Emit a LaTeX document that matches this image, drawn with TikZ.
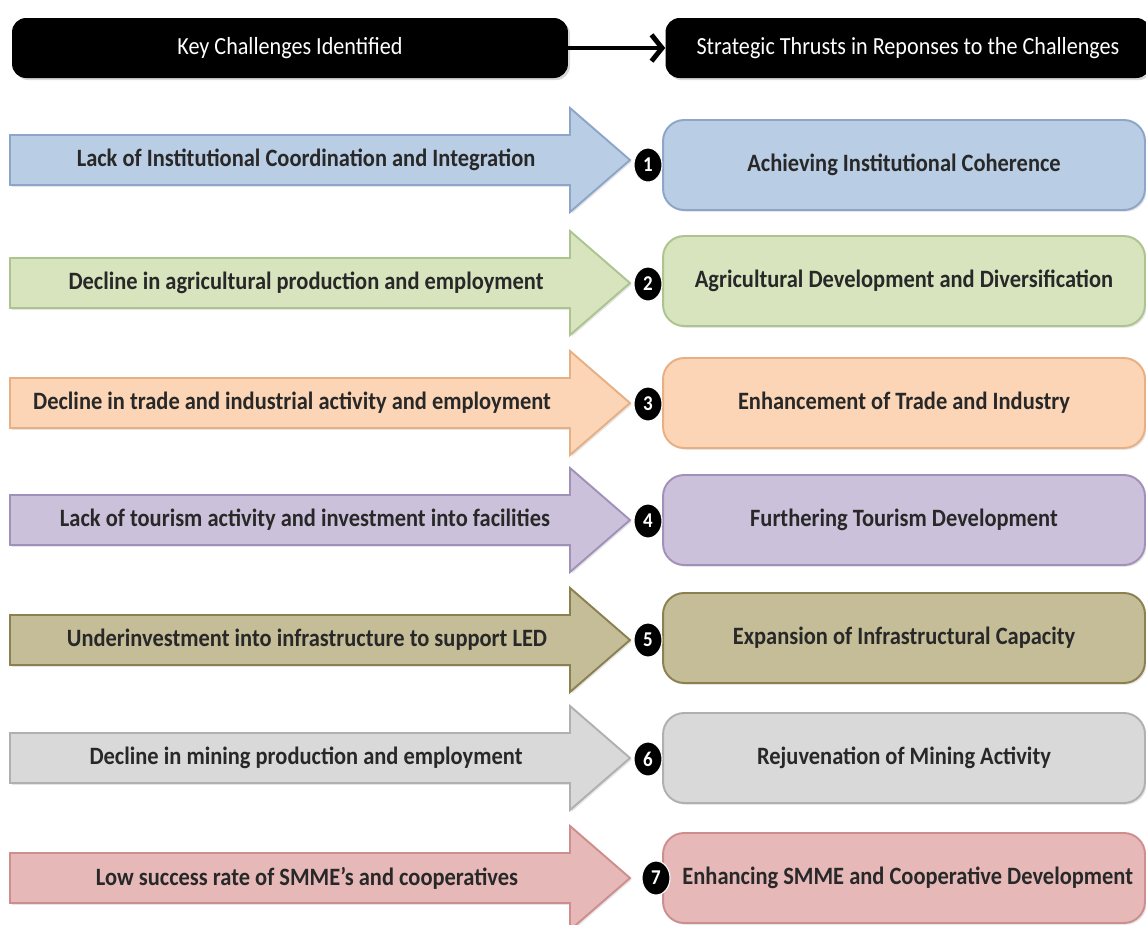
\documentclass[tikz,border=0pt]{standalone}
\usepackage{fontspec}
\setmainfont{Carlito}[FakeStretch=0.9]
\usepackage{tikz}
\usetikzlibrary{positioning, arrows.meta, shapes.geometric, shadows}

\definecolor{TextColor}{RGB}{40,40,40}
\definecolor{BlueFill}{RGB}{185,205,228}
\definecolor{BlueLine}{RGB}{140,165,200}
\definecolor{GreenFill}{RGB}{215,228,190}
\definecolor{GreenLine}{RGB}{172,196,142}
\definecolor{OrangeFill}{RGB}{251,213,181}
\definecolor{OrangeLine}{RGB}{230,176,132}
\definecolor{PurpleFill}{RGB}{204,193,218}
\definecolor{PurpleLine}{RGB}{160,145,186}
\definecolor{OliveFill}{RGB}{196,189,151}
\definecolor{OliveLine}{RGB}{138,128,80}
\definecolor{GreyFill}{RGB}{217,217,217}
\definecolor{GreyLine}{RGB}{176,176,176}
\definecolor{RedFill}{RGB}{230,185,184}
\definecolor{RedLine}{RGB}{206,142,142}

\tikzstyle{header} = [fill=black, rounded corners=8, minimum height=1.2cm, text=white,
    font=\fontsize{14}{16}\selectfont, drop shadow={opacity=0.3, shadow xshift=1.2pt, shadow yshift=-1.2pt}]
\tikzstyle{headarrow} = [line width=2.8pt, -{Straight Barb[length=6pt, width=15pt]}]
\tikzstyle{challenge} = [line width=1.1pt, drop shadow={opacity=0.2, shadow xshift=1pt, shadow yshift=-1pt}]
\tikzstyle{challengetext} = [text=TextColor, font=\bfseries\fontsize{14.2}{16}\selectfont]
\tikzstyle{thrust} = [line width=1.1pt, rounded corners=12, minimum width=9.64cm, minimum height=1.8cm,
    text=TextColor, font=\bfseries\fontsize{14.2}{16}\selectfont,
    drop shadow={opacity=0.2, shadow xshift=1pt, shadow yshift=-1pt}]
\tikzstyle{number} = [ellipse, fill=black, draw=white, line width=0.6pt, minimum width=0.56cm, minimum height=0.68cm,
    inner sep=0pt, text=white, font=\bfseries\fontsize{12}{12}\selectfont]

% block arrow with its tip at (630,#1)
\newcommand{\challengearrow}[2]{%
  \draw[challenge, fill=#2Fill, draw=#2Line, shift={(0,#1)}]
    (10,-25) -- (570,-25) -- (570,-52) -- (630,0) -- (570,52) -- (570,25) -- (10,25) -- cycle;}

\begin{document}
\begin{tikzpicture}[x=0.02cm, y=-0.02cm]
\useasboundingbox[fill=white] (0,0) rectangle (1146,924);

% headers
\node[header, minimum width=11.12cm] (keyhead) at (290,48) {Key Challenges Identified};
\node[header, minimum width=9.7cm] (thrusthead) at (908,48) {Strategic Thrusts in Reponses to the Challenges};
\draw[headarrow] (keyhead) -- (thrusthead);

% 1
\challengearrow{160}{Blue}
\node[challengetext] (c1) at (306,160) {Lack of Institutional Coordination and Integration};
\node[thrust, fill=BlueFill, draw=BlueLine] (t1) at (904,165) {Achieving Institutional Coherence};
\node[number] (n1) at (648,165) {1};

% 2
\challengearrow{283}{Green}
\node[challengetext] (c2) at (306,283) {Decline in agricultural production and employment};
\node[thrust, fill=GreenFill, draw=GreenLine] (t2) at (904,281) {Agricultural Development and Diversification};
\node[number] (n2) at (648,284) {2};

% 3
\challengearrow{403}{Orange}
\node[challengetext] (c3) at (292,403) {Decline in trade and industrial activity and employment};
\node[thrust, fill=OrangeFill, draw=OrangeLine] (t3) at (904,403) {Enhancement of Trade and Industry};
\node[number] (n3) at (648,404) {3};

% 4
\challengearrow{520}{Purple}
\node[challengetext] (c4) at (305,520) {Lack of tourism activity and investment into facilities};
\node[thrust, fill=PurpleFill, draw=PurpleLine] (t4) at (904,520) {Furthering Tourism Development};
\node[number] (n4) at (648,521) {4};

% 5
\challengearrow{640}{Olive}
\node[challengetext] (c5) at (307,640) {Underinvestment into infrastructure to support LED};
\node[thrust, fill=OliveFill, draw=OliveLine] (t5) at (904,638) {Expansion of Infrastructural Capacity};
\node[number] (n5) at (648,640) {5};

% 6
\challengearrow{758}{Grey}
\node[challengetext] (c6) at (306,758) {Decline in mining production and employment};
\node[thrust, fill=GreyFill, draw=GreyLine] (t6) at (904,758) {Rejuvenation of Mining Activity};
\node[number] (n6) at (648,759) {6};

% 7
\challengearrow{878}{Red}
\node[challengetext] (c7) at (307,878) {Low success rate of SMME’s and cooperatives};
\node[thrust, fill=RedFill, draw=RedLine] (t7) at (904,878) {\hspace*{0.15cm}Enhancing SMME and Cooperative Development};
\node[number] (n7) at (656,878) {7};
\end{tikzpicture}
\end{document}
